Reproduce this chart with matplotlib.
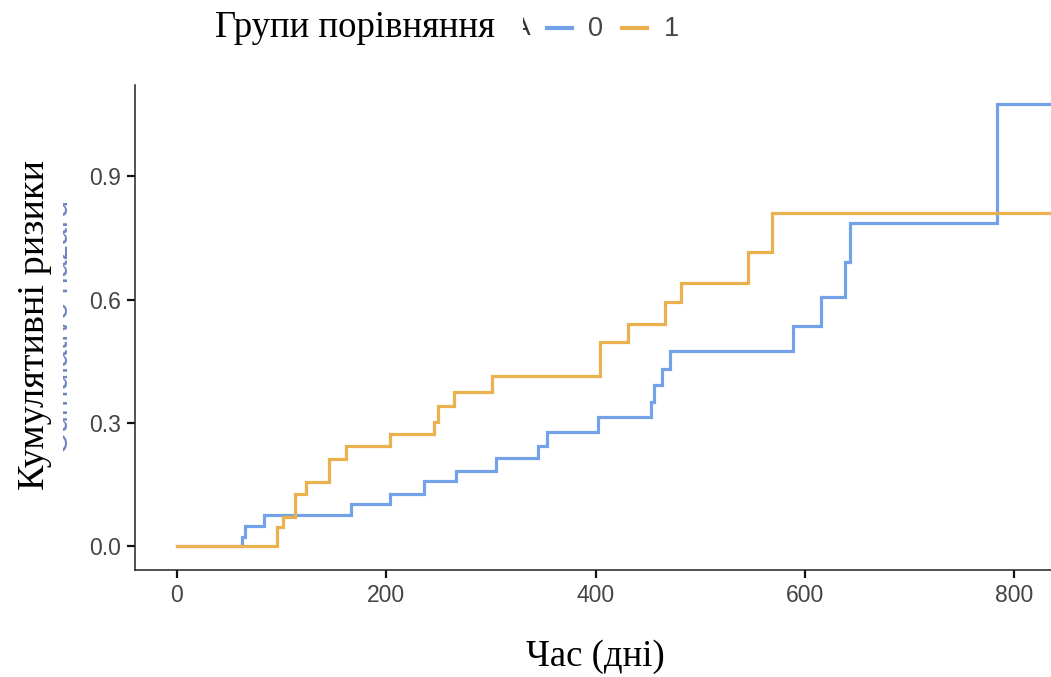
import matplotlib
matplotlib.use("Agg")
import matplotlib.pyplot as plt
from matplotlib.patches import Rectangle
from matplotlib.lines import Line2D

# ---- data ----
time_g0 = [0, 62, 65, 83.5, 166, 203.6, 236, 267, 304.6, 345, 353.4, 402, 453, 456, 463, 471,
           589, 615, 638.6, 643.4, 783.7, 840]
haz_g0 = [0, 0.023, 0.049, 0.075, 0.102, 0.128, 0.158, 0.183, 0.215, 0.244, 0.278, 0.315, 0.35,
          0.391, 0.432, 0.475, 0.535, 0.605, 0.692, 0.787, 1.075, 1.075]
time_g1 = [0, 96, 101, 113, 123, 145, 162, 203.6, 246, 249, 265, 301, 404, 430.5, 466.5, 482,
           546, 568.5, 840]
haz_g1 = [0, 0.047, 0.071, 0.126, 0.156, 0.212, 0.243, 0.274, 0.302, 0.34, 0.375, 0.414, 0.496,
          0.54, 0.593, 0.641, 0.715, 0.81, 0.81]
group_labels = ["0", "1"]
x_ticks = [0, 200, 400, 600, 800]
y_ticks = [0.0, 0.3, 0.6, 0.9]
y_tick_labels = ["0.0", "0.3", "0.6", "0.9"]

C0 = "#74A2E8"
C1 = "#EAB14E"
TICKC = "#444444"

W, H = 1051, 677
fig = plt.figure(figsize=(W / 100, H / 100), dpi=100)
fig.patch.set_facecolor("white")

ax = fig.add_axes([135 / W, 1 - 570 / H, (W - 135) / W, (570 - 85) / H])
ax.step(time_g0, haz_g0, where="post", color=C0, lw=2.3, solid_joinstyle="miter")
ax.step(time_g1, haz_g1, where="post", color=C1, lw=2.3, solid_joinstyle="miter")
ax.set_xlim(-40, 835)
ax.set_ylim(-0.058, 1.122)
ax.set_xticks(x_ticks)
ax.set_xticklabels([str(v) for v in x_ticks])
ax.set_yticks(y_ticks)
ax.set_yticklabels(y_tick_labels)
for s in ["top", "right"]:
    ax.spines[s].set_visible(False)
for s in ["left", "bottom"]:
    ax.spines[s].set_color("#222222")
    ax.spines[s].set_linewidth(1.1)
ax.tick_params(axis="both", length=6, width=1.6, color="#111111", labelcolor=TICKC,
               labelsize=16.5, pad=4)
for lab in ax.get_xticklabels() + ax.get_yticklabels():
    lab.set_family("Liberation Sans")

serif = "Liberation Serif"

# ghost of the original (mostly hidden) y label: only a thin sliver stays visible
fig.text(68 / W, 1 - 327 / H, "Cumulative hazard", rotation=90, rotation_mode="anchor",
         ha="center", va="baseline", family="Liberation Sans", fontsize=22,
         color="#4a66b0", alpha=0.8, zorder=2)
fig.add_artist(Rectangle((0, 0), 62.5 / W, 1, transform=fig.transFigure,
                         facecolor="white", edgecolor="none", zorder=3))

# axis titles
fig.text(35 / W, 1 - 325 / H, "Кумулятивні ризики", rotation=90, ha="center", va="center",
         family=serif, fontsize=27.5, color="black", zorder=5)
fig.text(595 / W, 1 - 657 / H, "Час (дні)", ha="center", va="center",
         family=serif, fontsize=26.5, color="black", zorder=5)

# legend
fig.text(215 / W, 1 - 28 / H, "Групи порівняння", ha="left", va="center",
         family=serif, fontsize=26.5, color="black", zorder=5)
fig.text(531 / W, 1 - 28 / H, "A", ha="right", va="center", family="Liberation Sans",
         fontsize=19, color="#333333", zorder=2)
fig.add_artist(Rectangle((505 / W, 0.9), 18 / W, 0.1, transform=fig.transFigure,
                         facecolor="white", edgecolor="none", zorder=3))

fig.add_artist(Line2D([547 / W, 572 / W], [1 - 28 / H, 1 - 28 / H], transform=fig.transFigure,
                      color=C0, lw=3))
fig.text(588 / W, 1 - 29 / H, group_labels[0], ha="left", va="center",
         family="Liberation Sans", fontsize=19.5, color=TICKC)
fig.add_artist(Line2D([622 / W, 647 / W], [1 - 28 / H, 1 - 28 / H], transform=fig.transFigure,
                      color=C1, lw=3))
fig.text(664 / W, 1 - 29 / H, group_labels[1], ha="left", va="center",
         family="Liberation Sans", fontsize=19.5, color=TICKC)

fig.savefig("out.png", dpi=100, facecolor="white")
